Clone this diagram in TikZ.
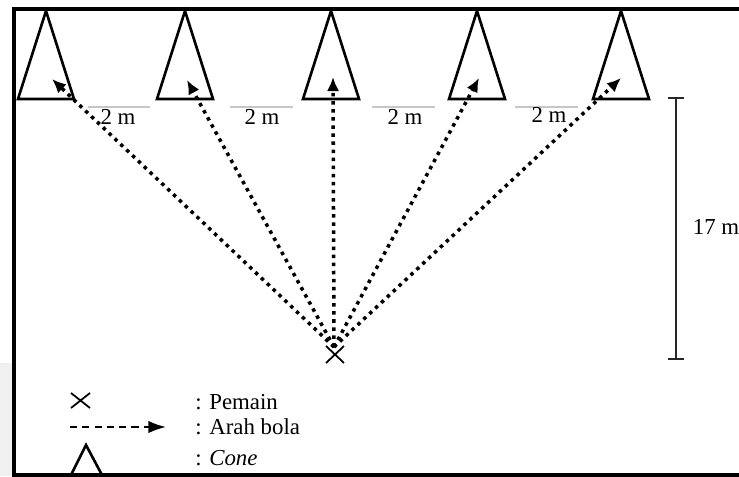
\documentclass[tikz,border=0pt]{standalone}
\usepackage{fontspec}
\setmainfont{Liberation Serif}
\usetikzlibrary{arrows.meta}

\begin{document}
\begin{tikzpicture}[
    x=0.02cm, y=-0.02cm,
    cone/.style={draw,line width=1.5pt,line join=miter},
    pass link/.style={line width=2pt,dash pattern=on 2pt off 2.6pt,-{Latex[length=8pt,width=7pt]}},
    gap line/.style={draw=black!22,line width=0.6pt},
    label text/.style={font=\fontsize{13}{15}\selectfont,inner sep=0pt},
    player/.style={line width=1pt},
    frame/.style={line width=2.2pt},
    span bar/.style={line width=1.3pt,black!85,{Bar[width=9pt]}-{Bar[width=9pt]}}
    ]
    \useasboundingbox (0,0) rectangle (739,476);
    % page strip and frame
    \fill[black!6] (0,363) rectangle (13,476);
    \draw[frame] (739,9) -- (14,9) -- (14,475) -- (739,475);
    % cones
    \foreach \x in {46,185,331,477,621} {
        \draw[cone] (\x-28,99) -- (\x,11) -- (\x+28,99) -- cycle;
    }
    % gaps between cones
    \foreach \a/\b/\m/\y in {88/150/118/117,230/293/262/117,372/435/405/117,515/578/549/115} {
        \draw[gap line] (\a,107) -- (\b,107);
        \node[label text] (gap\m) at (\m,\y) {2 m};
    }
    % player
    \coordinate (kick) at (334,347);
    \draw[player] (326,346) -- (344,363) (344,346) -- (326,363);
    % passes
    \foreach \i/\x/\y in {1/52/79,2/187/80,3/333/77,4/479/78,5/621/78} {
        \coordinate (tip\i) at (\x,\y);
        \draw[pass link] (kick) -- (tip\i);
    }
    % distance
    \coordinate (bar top) at (676,97);
    \coordinate (bar bottom) at (676,360);
    \draw[span bar] (bar top) -- (bar bottom);
    \node[label text] (dist) at (716,227) {17 m};
    % legend
    \draw[player] (71,393) -- (90,408) (90,393) -- (71,408);
    \node[label text,anchor=west] (key player) at (195,402) {: Pemain};
    \coordinate (key start) at (70,427);
    \coordinate (key end) at (166,427);
    \draw[line width=1pt,dash pattern=on 4pt off 3pt,-{Latex[length=10pt,width=7pt]}] (key start) -- (key end);
    \node[label text,anchor=west] (key pass) at (195,427) {: Arah bola};
    \draw[cone] (71,475) -- (86,445) -- (102,475);
    \node[label text,anchor=west] (key cone) at (195,458) {: \textit{Cone}};
\end{tikzpicture}
\end{document}
